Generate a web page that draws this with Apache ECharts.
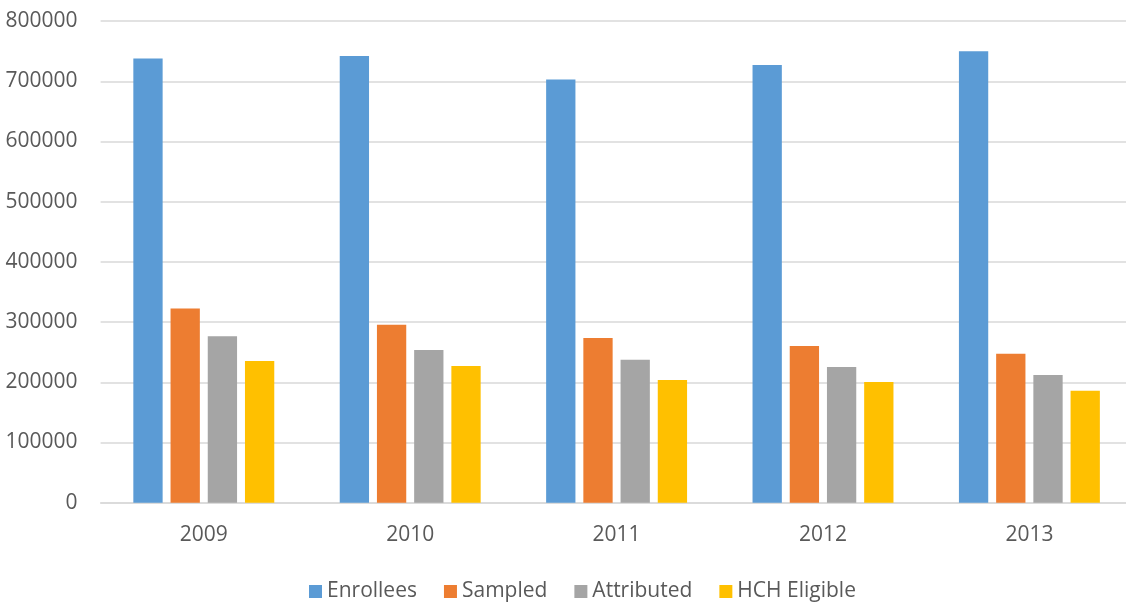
<!DOCTYPE html>
<html>
<head>
<meta charset="utf-8">
<script src="https://cdn.jsdelivr.net/npm/echarts@6/dist/echarts.min.js"></script>
<style>
html,body{margin:0;padding:0;background:#fff;}
#chart{width:1126px;height:602px;}
</style>
</head>
<body>
<div id="chart"></div>
<script>
const years = ['2009', '2010', '2011', '2012', '2013'];
const enrollees = [738000, 742000, 703000, 727000, 750000];
const sampled = [322500, 295500, 273500, 260500, 247500];
const attributed = [276500, 253500, 237500, 225500, 212000];
const hchEligible = [235500, 227000, 204000, 200500, 186000];
const yTicks = { min: 0, max: 800000, interval: 100000 };

const seriesNames = ['Enrollees', 'Sampled', 'Attributed', 'HCH Eligible'];
const seriesData = [enrollees, sampled, attributed, hchEligible];
const colors = ['#5B9BD5', '#ED7D31', '#A5A5A5', '#FFC000'];

const chart = echarts.init(document.getElementById('chart'), null, { renderer: 'canvas' });
const font = '"Open Sans", "Noto Sans", sans-serif';
chart.setOption({
  animation: false,
  backgroundColor: '#ffffff',
  grid: { left: 100.6, width: 1032, top: 21.1, height: 481.6, containLabel: false, outerBoundsMode: 'none' },
  legend: {
    data: seriesNames,
    left: 304,
    top: 576,
    itemWidth: 13,
    itemHeight: 13,
    itemGap: 27,
    icon: 'rect',
    textStyle: { color: '#595959', fontSize: 21, fontFamily: font }
  },
  xAxis: {
    type: 'category',
    data: years,
    axisLine: { show: true, lineStyle: { color: '#D9D9D9', width: 1.5 } },
    axisTick: { show: false },
    axisLabel: { color: '#595959', fontSize: 21, fontFamily: font, margin: 22 }
  },
  yAxis: {
    type: 'value',
    min: yTicks.min,
    max: yTicks.max,
    interval: yTicks.interval,
    axisLine: { show: false },
    axisTick: { show: false },
    splitLine: { lineStyle: { color: '#D9D9D9', width: 1.5 } },
    axisLabel: { color: '#595959', fontSize: 21, fontFamily: font, margin: 23, formatter: v => String(v) }
  },
  series: seriesNames.map((n, i) => ({
    name: n,
    type: 'bar',
    data: seriesData[i],
    barWidth: 29.3,
    barGap: '27%',
    itemStyle: { color: colors[i] }
  }))
});
</script>
</body>
</html>
